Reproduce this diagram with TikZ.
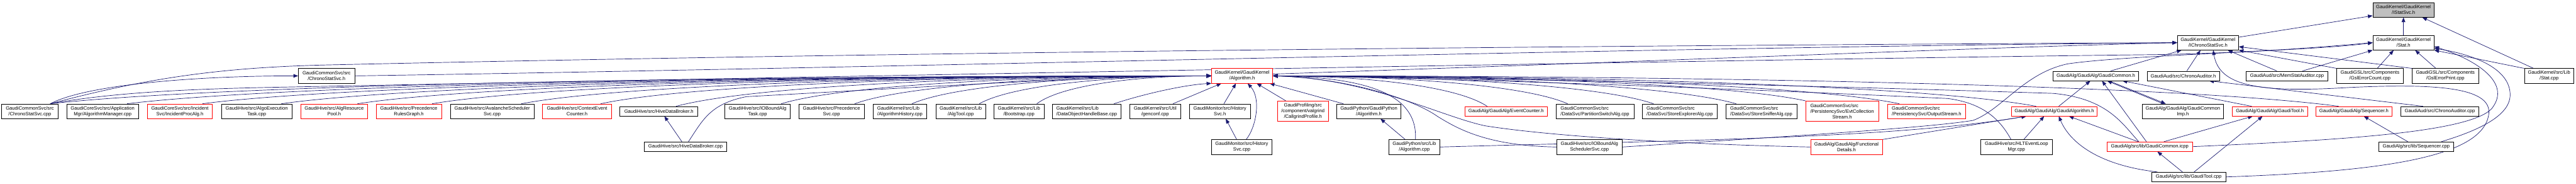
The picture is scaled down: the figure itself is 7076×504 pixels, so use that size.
\documentclass[tikz,border=0pt]{standalone}
\usepackage{fontspec}
\setmainfont{Liberation Sans}
\usepackage{calc}
\usetikzlibrary{arrows.meta,calc}
\definecolor{edgec}{RGB}{25,25,112}
\definecolor{nodered}{RGB}{255,0,0}
\definecolor{rootgray}{RGB}{191,191,191}
\pgfdeclarelayer{bg}
\pgfsetlayers{bg,main}
\newcommand{\lft}[2]{\makebox[\widthof{#2}][l]{#1}\\#2}
\newcommand{\dedge}[2]{\draw[edge] let \p1=(#1), \p2=(#2) in (\p1) .. controls ({\x1+0.15*(\x2-\x1)},{\y2+0.3*(\y1-\y2)}) and ({\x2-0.4*(\x2-\x1)},\y2) .. (\p2);}
\tikzset{
  nb/.style={draw=black, fill=white, line width=1.2pt, inner sep=0pt, align=center, font=\fontsize{13.2pt}{15.5pt}\selectfont},
  nr/.style={nb, draw=nodered},
  ng/.style={nb, fill=rootgray},
  edge/.style={draw=edgec, line width=1.2pt, -{Triangle[length=13pt,width=10pt]}},
}
\begin{document}
\begin{tikzpicture}[x=1pt,y=-1pt]
\useasboundingbox (0,0) rectangle (7076,504);
% rank 0
\node[ng, minimum width=168pt, minimum height=40pt] (istat) at (6602,27) {GaudiKernel/GaudiKernel\\/IStatSvc.h};
% rank 1
\node[nb, minimum width=168pt, minimum height=40pt] (ichrono) at (6065,117) {GaudiKernel/GaudiKernel\\/IChronoStatSvc.h};
\node[nb, minimum width=168pt, minimum height=40pt] (stath) at (6602,117) {GaudiKernel/GaudiKernel\\/Stat.h};
% rank 2
\node[nb, minimum width=155pt, minimum height=40pt] (cssh) at (897,208) {GaudiCommonSvc/src\\/ChronoStatSvc.h};
\node[nr, minimum width=168pt, minimum height=40pt] (algh) at (3412,208) {GaudiKernel/GaudiKernel\\/Algorithm.h};
\node[nb, minimum width=235pt, minimum height=26pt] (gch) at (5757,208) {GaudiAlg/GaudiAlg/GaudiCommon.h};
\node[nb, minimum width=199pt, minimum height=26pt] (cah) at (5997,208) {GaudiAud/src/ChronoAuditor.h};
\node[nb, minimum width=224pt, minimum height=26pt] (msa) at (6282,208) {GaudiAud/src/MemStatAuditor.cpp};
\node[nb, minimum width=183pt, minimum height=40pt] (gslc) at (6510,208) {GaudiGSL/src/Components\\/GslErrorCount.cpp};
\node[nb, minimum width=183pt, minimum height=40pt] (gslp) at (6717,208) {GaudiGSL/src/Components\\/GslErrorPrint.cpp};
\node[nb, minimum width=136pt, minimum height=40pt] (statcpp) at (7002,208) {GaudiKernel/src/Lib\\/Stat.cpp};
% rank 3
\node[nb, minimum width=155pt, minimum height=40pt] (cscpp) at (82,305) {GaudiCommonSvc/src\\/ChronoStatSvc.cpp};
\node[nb, minimum width=197pt, minimum height=40pt] (algmgr) at (282,305) {GaudiCoreSvc/src/Application\\Mgr/AlgorithmManager.cpp};
\node[nr, minimum width=179pt, minimum height=40pt] (incproc) at (494,305) {GaudiCoreSvc/src/Incident\\Svc/IncidentProcAlg.h};
\node[nb, minimum width=194pt, minimum height=40pt] (aet) at (705,305) {GaudiHive/src/AlgoExecution\\Task.cpp};
\node[nr, minimum width=184pt, minimum height=40pt] (arp) at (918,305) {GaudiHive/src/AlgResource\\Pool.h};
\node[nr, minimum width=179pt, minimum height=40pt] (prg) at (1123,305) {GaudiHive/src/Precedence\\RulesGraph.h};
\node[nb, minimum width=229pt, minimum height=40pt] (ass) at (1352,305) {GaudiHive/src/AvalancheScheduler\\Svc.cpp};
\node[nr, minimum width=190pt, minimum height=40pt] (cec) at (1585,305) {GaudiHive/src/ContextEvent\\Counter.h};
\node[nb, minimum width=214pt, minimum height=26pt] (hdbh) at (1810,305) {GaudiHive/src/HiveDataBroker.h};
\node[nb, minimum width=180pt, minimum height=40pt] (iobt) at (2081,305) {GaudiHive/src/IOBoundAlg\\Task.cpp};
\node[nb, minimum width=179pt, minimum height=40pt] (psvc) at (2284,305) {GaudiHive/src/Precedence\\Svc.cpp};
\node[nb, minimum width=148pt, minimum height=40pt] (ahist) at (2472,305) {\lft{GaudiKernel/src/Lib}{/AlgorithmHistory.cpp}};
\node[nb, minimum width=136pt, minimum height=40pt] (algtool) at (2639,305) {GaudiKernel/src/Lib\\/AlgTool.cpp};
\node[nb, minimum width=137pt, minimum height=40pt] (boot) at (2799,305) {GaudiKernel/src/Lib\\/Bootstrap.cpp};
\node[nb, minimum width=189pt, minimum height=40pt] (dohb) at (2985,305) {\lft{GaudiKernel/src/Lib}{/DataObjectHandleBase.cpp}};
\node[nb, minimum width=140pt, minimum height=40pt] (genconf) at (3173,305) {GaudiKernel/src/Util\\/genconf.cpp};
\node[nb, minimum width=168pt, minimum height=40pt] (hsvch) at (3351,305) {GaudiMonitor/src/History\\Svc.h};
\node[nr, minimum width=139pt, minimum height=56pt] (callg) at (3579,305) {GaudiProfiling/src\\/component/valgrind\\/CallgrindProfile.h};
\node[nb, minimum width=176pt, minimum height=40pt] (gpah) at (3760,305) {GaudiPython/GaudiPython\\/Algorithm.h};
\node[nr, minimum width=227pt, minimum height=26pt] (evc) at (4137,305) {GaudiAlg/GaudiAlg/EventCounter.h};
\node[nb, minimum width=214pt, minimum height=40pt] (pswitch) at (4381,305) {\lft{GaudiCommonSvc/src}{/DataSvc/PartitionSwitchAlg.cpp}};
\node[nb, minimum width=204pt, minimum height=40pt] (sexpl) at (4614,305) {\lft{GaudiCommonSvc/src}{/DataSvc/StoreExplorerAlg.cpp}};
\node[nb, minimum width=195pt, minimum height=40pt] (ssniff) at (4838,305) {\lft{GaudiCommonSvc/src}{/DataSvc/StoreSnifferAlg.cpp}};
\node[nr, minimum width=200pt, minimum height=56pt] (evtcol) at (5060,305) {\lft{GaudiCommonSvc/src}{/PersistencySvc/EvtCollection}\\Stream.h};
\node[nr, minimum width=215pt, minimum height=40pt] (outst) at (5292,305) {\lft{GaudiCommonSvc/src}{/PersistencySvc/OutputStream.h}};
\node[nr, minimum width=236pt, minimum height=26pt] (gah) at (5643,305) {GaudiAlg/GaudiAlg/GaudiAlgorithm.h};
\node[nb, minimum width=222pt, minimum height=40pt] (gcimp) at (5996,305) {GaudiAlg/GaudiAlg/GaudiCommon\\Imp.h};
\node[nr, minimum width=207pt, minimum height=26pt] (gth) at (6235,305) {GaudiAlg/GaudiAlg/GaudiTool.h};
\node[nr, minimum width=210pt, minimum height=26pt] (seqh) at (6466,305) {GaudiAlg/GaudiAlg/Sequencer.h};
\node[nb, minimum width=214pt, minimum height=26pt] (cacpp) at (6702,305) {GaudiAud/src/ChronoAuditor.cpp};
% rank 4
\node[nb, minimum width=227pt, minimum height=26pt] (hdbcpp) at (1883,402) {GaudiHive/src/HiveDataBroker.cpp};
\node[nb, minimum width=167pt, minimum height=40pt] (hsvccpp) at (3411,403) {GaudiMonitor/src/History\\Svc.cpp};
\node[nb, minimum width=141pt, minimum height=40pt] (gpacpp) at (3885,403) {GaudiPython/src/Lib\\/Algorithm.cpp};
\node[nb, minimum width=179pt, minimum height=40pt] (iobs) at (4366,403) {GaudiHive/src/IOBoundAlg\\SchedulerSvc.cpp};
\node[nr, minimum width=197pt, minimum height=40pt] (fdet) at (5072,403) {GaudiAlg/GaudiAlg/Functional\\Details.h};
\node[nb, minimum width=196pt, minimum height=40pt] (hlt) at (5539,403) {GaudiHive/src/HLTEventLoop\\Mgr.cpp};
\node[nr, minimum width=234pt, minimum height=26pt] (gcicpp) at (5905,402) {GaudiAlg/src/lib/GaudiCommon.icpp};
\node[nb, minimum width=205pt, minimum height=26pt] (seqcpp) at (6637,402) {GaudiAlg/src/lib/Sequencer.cpp};
% rank 5
\node[nb, minimum width=203pt, minimum height=26pt] (gtcpp) at (6012,485) {GaudiAlg/src/lib/GaudiTool.cpp};

\begin{pgfonlayer}{bg}
\fill[white] (0,0) rectangle (7076,504);
% into IStatSvc.h
\draw[edge] (stath.north) -- (istat.south);
\draw[edge] ([xshift=26pt]statcpp.north west) -- ([xshift=-33pt]istat.south east);
\draw[edge] ([yshift=15pt]ichrono.east) -- ([yshift=-16pt]istat.west);
% into IChronoStatSvc.h
\draw[edge] ([xshift=56pt]cscpp.north) .. controls (400,215) and (600,185) .. (900,178) .. controls (2500,142) and (4500,124) .. (ichrono.west);
\draw[edge] (cssh.east) .. controls (2500,185) and (4500,130) .. (ichrono.west);
\draw[edge] ([yshift=5pt]algh.east) .. controls (4500,170) and (5500,128) .. (ichrono.west);
\draw[edge] ([xshift=41pt]gch.north) -- ([xshift=12pt]ichrono.south west);
\draw[edge] ([xshift=10pt]cah.north) -- ([xshift=64pt]ichrono.south west);
\draw[edge] ([xshift=-28pt]msa.north) -- ([xshift=139pt]ichrono.south west);
\draw[edge] (gslc.north west) -- (ichrono.south east);
\draw[edge] (gslp.north west) -- ([yshift=-11pt]ichrono.east);
\draw[edge] (gtcpp.east) .. controls (6550,470) and (6810,430) .. (6835,320) .. controls (6855,240) and (6700,228) .. (6450,240) .. controls (6200,255) and (6095,235) .. ([xshift=99pt]ichrono.south west);
% into Stat.h
\draw[edge] ([xshift=56pt]cscpp.north) .. controls (300,255) and (500,245) .. (720,240) .. controls (2500,205) and (5000,160) .. (5900,150) .. controls (6200,146) and (6420,125) .. (stath.west);
\draw[edge] (iobs.east) .. controls (4900,375) and (5300,350) .. (5420,330) .. controls (5500,300) and (5560,200) .. (5680,175) .. controls (5850,150) and (6350,140) .. (stath.west);
\draw[edge] ([xshift=43pt]msa.north) -- (stath.south west);
\draw[edge] ([xshift=20pt]gslc.north) -- ([xshift=-27pt]stath.south);
\draw[edge] ([xshift=-26pt]gslp.north) -- ([xshift=32pt]stath.south);
\draw[edge] (statcpp.north west) -- (stath.south east);
\draw[edge] ([xshift=69pt]seqcpp.north) .. controls (6800,360) and (6895,320) .. (6895,260) .. controls (6895,190) and (6800,150) .. ([yshift=5pt]stath.south east);
\draw[edge] (gcicpp.east) .. controls (6400,385) and (6810,365) .. (6850,290) .. controls (6895,220) and (6790,160) .. ([yshift=10pt]stath.south east);
% ChronoStatSvc.h, ChronoAuditor.h
\dedge{[xshift=56pt]cscpp.north}{cssh.west}
\draw[edge] ([xshift=-46pt]cacpp.north) -- ([xshift=71pt]cah.south);
% into Algorithm.h from the left
\dedge{[xshift=56pt]cscpp.north}{algh.west}
\dedge{[xshift=67pt]algmgr.north}{algh.west}
\dedge{[xshift=62pt]incproc.north}{algh.west}
\dedge{[xshift=68pt]aet.north}{algh.west}
\dedge{[xshift=64pt]arp.north}{algh.west}
\dedge{[xshift=64pt]prg.north}{algh.west}
\dedge{[xshift=80pt]ass.north}{algh.west}
\dedge{[xshift=65pt]cec.north}{algh.west}
\dedge{[xshift=47pt]hdbh.north}{algh.west}
\draw[edge] ([xshift=8pt]hdbcpp.north) .. controls (1930,330) and (1950,285) .. (2050,265) .. controls (2600,235) and (3000,210) .. (algh.west);
\dedge{[xshift=65pt]iobt.north}{algh.west}
\dedge{[xshift=64pt]psvc.north}{algh.west}
\dedge{[xshift=33pt]ahist.north}{algh.west}
\dedge{[xshift=51pt]algtool.north}{algh.west}
\dedge{[xshift=49pt]boot.north}{algh.west}
\draw[edge] ([xshift=75pt]dohb.north) .. controls (3150,255) and (3260,232) .. (algh.south west);
\draw[edge] ([xshift=49pt]genconf.north) -- ([xshift=-57pt]algh.south);
\draw[edge] ([xshift=11pt]hsvch.north) -- ([xshift=-17pt]algh.south);
\draw[edge] ([xshift=12pt]hsvccpp.north) .. controls (3450,350) and (3465,270) .. ([xshift=15pt]algh.south);
\draw[edge] ([xshift=-14pt]hsvccpp.north) -- ([xshift=16pt]hsvch.south);
\draw[edge] ([xshift=-47pt]callg.north) -- ([xshift=40pt]algh.south);
\draw[edge] ([xshift=-70pt]gpah.north) -- ([xshift=-9pt]algh.south east);
% into Algorithm.h from the right
\draw[edge] ([xshift=3pt]gpacpp.north) .. controls (3895,260) and (3760,212) .. (algh.east);
\draw[edge] ([xshift=-25pt]gpacpp.north) -- ([xshift=32pt]gpah.south);
\draw[edge] (gpacpp.east) .. controls (4600,385) and (5200,380) .. ([xshift=-77pt]gah.south);
\dedge{[xshift=-52pt]evc.north}{algh.east}
\dedge{[xshift=-75pt]pswitch.north}{algh.east}
\dedge{[xshift=-72pt]sexpl.north}{algh.east}
\dedge{[xshift=-69pt]ssniff.north}{algh.east}
\dedge{evtcol.north west}{algh.east}
\dedge{[xshift=-75pt]outst.north}{algh.east}
\dedge{[xshift=-50pt]gah.north}{algh.east}
\draw[edge] ([xshift=-15pt]hlt.north) .. controls (5490,320) and (5440,282) .. (5350,270) .. controls (4600,235) and (3800,210) .. (algh.east);
\draw[edge] (iobs.west) .. controls (4080,400) and (4000,350) .. (3950,320) .. controls (3880,270) and (3700,215) .. (algh.east);
\draw[edge] (fdet.west) .. controls (4600,395) and (4250,372) .. (4080,345) .. controls (3960,320) and (3760,215) .. (algh.east);
\draw[edge] ([xshift=-30pt]gcicpp.north) .. controls (5830,340) and (5790,270) .. (5640,256) .. controls (5000,235) and (4000,212) .. (algh.east);
\dedge{[xshift=-42pt]seqh.north}{algh.east}
% GaudiAlg cluster
\draw[edge] ([xshift=12pt]gah.north) -- ([xshift=-15pt]gch.south);
\draw[edge] ([xshift=-9pt]gcicpp.north) -- ([xshift=17pt]gch.south);
\draw[edge] ([xshift=-54pt]gcimp.north) -- ([xshift=31pt]gch.south);
\draw[edge] ([xshift=36pt]gch.south) -- ([xshift=-47pt]gcimp.north);
\draw[edge] ([xshift=-50pt]gth.north) -- ([xshift=73pt]gch.south);
\draw[edge] ([xshift=-32pt]gcicpp.north) -- ([xshift=40pt]gah.south);
\draw[edge] ([xshift=-86pt]gtcpp.north) .. controls (5780,455) and (5690,400) .. ([xshift=12pt]gah.south);
\draw[edge] ([xshift=-17pt]gtcpp.north) -- ([xshift=21pt]gcicpp.south);
\draw[edge] ([xshift=15pt]gtcpp.north) -- ([xshift=-20pt]gth.south);
\draw[edge] ([xshift=39pt]gcicpp.north) -- ([xshift=-47pt]gth.south);
\draw[edge] ([xshift=20pt]hlt.north) -- ([xshift=-28pt]gah.south);
\draw[edge] (fdet.north east) -- ([xshift=-77pt]gah.south);
\draw[edge] ([xshift=-10pt]hdbcpp.north) -- ([xshift=15pt]hdbh.south);
\draw[edge] ([xshift=-23pt]seqcpp.north) -- ([xshift=27pt]seqh.south);
\end{pgfonlayer}
\end{tikzpicture}
\end{document}
